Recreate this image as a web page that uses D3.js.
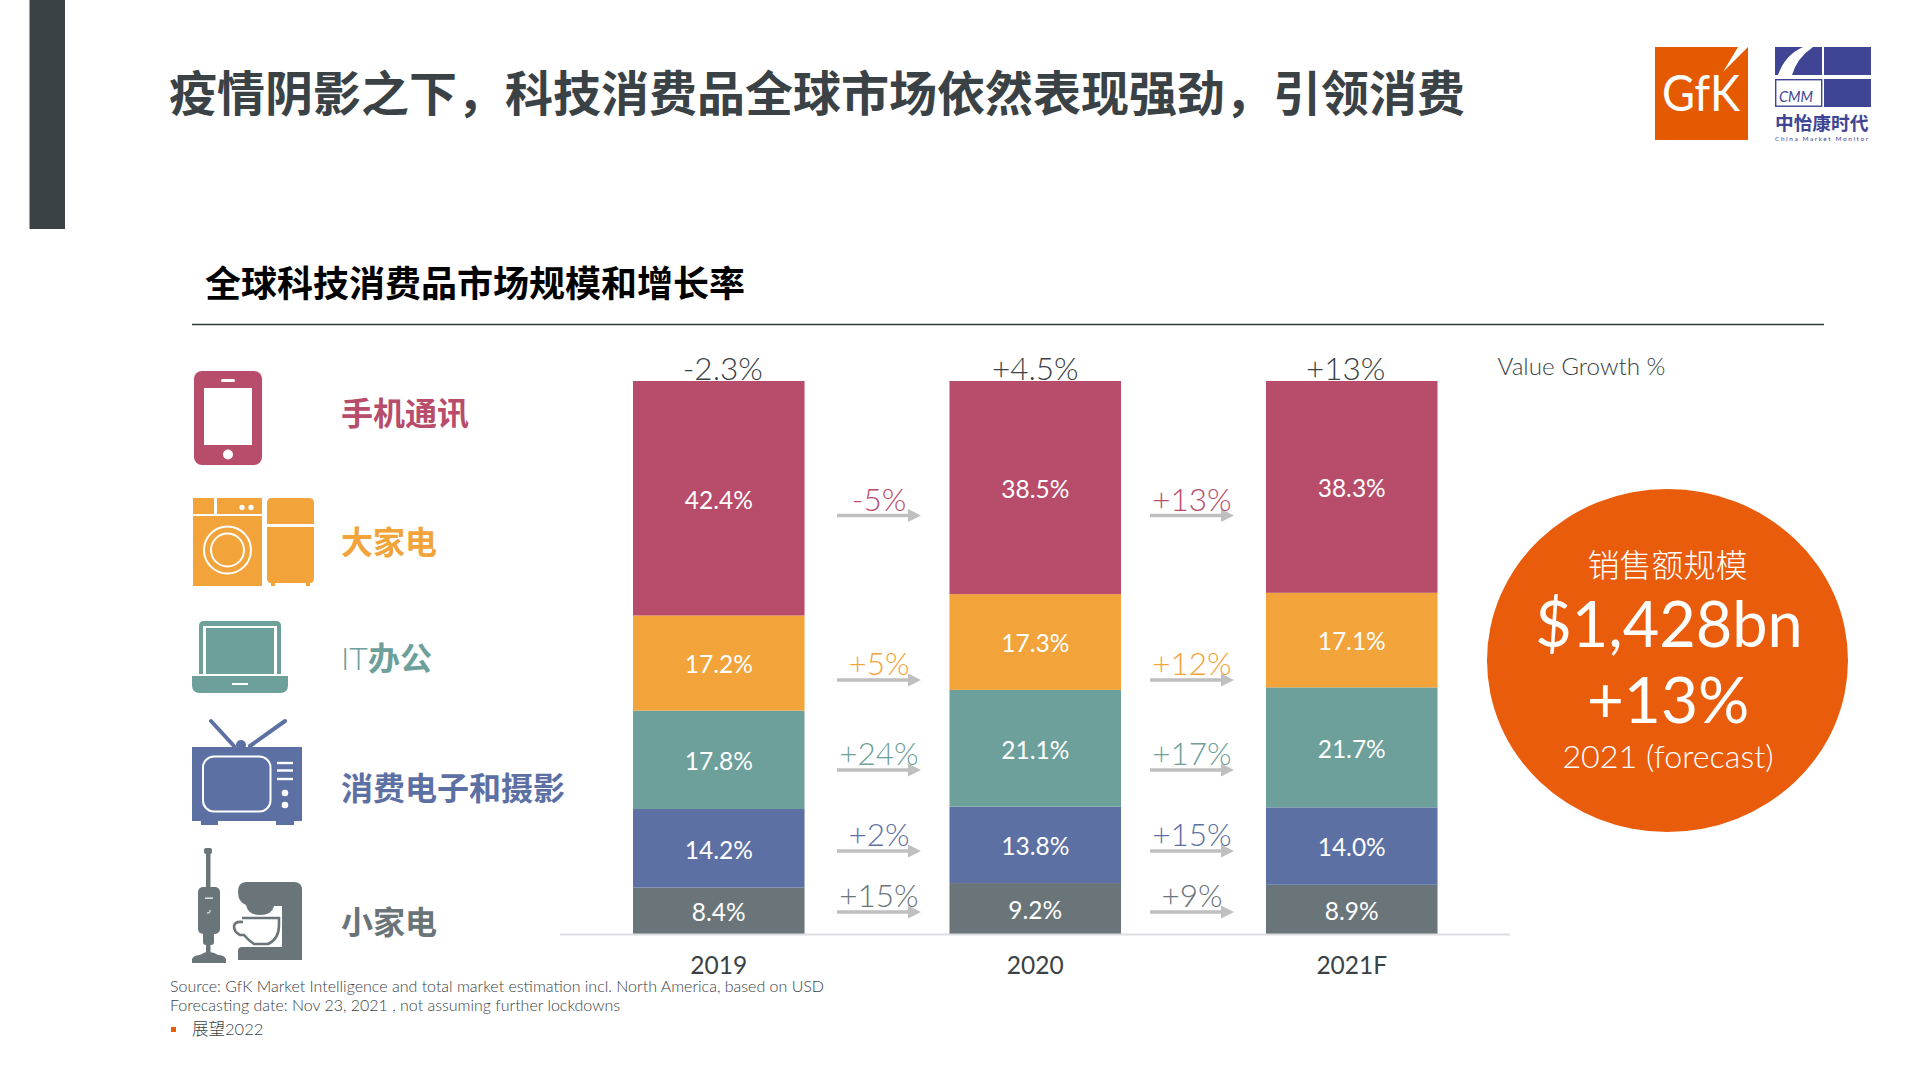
<!DOCTYPE html>
<html lang="zh-CN">
<head>
<meta charset="utf-8">
<title>全球科技消费品市场规模和增长率</title>
<script src="https://cdn.jsdelivr.net/npm/d3@7"></script>
<style>
  html, body { margin: 0; padding: 0; background: #fff; }
  svg { display: block; }
  text { font-family: Lato, "Noto Sans CJK SC", sans-serif; }
  .cjk { font-family: "Noto Sans CJK SC", sans-serif; }
</style>
</head>
<body>
<svg id="chart" width="1920" height="1080"></svg>
<script>
// chart values
const years = ['2019', '2020', '2021F'];
const categories = ['手机通讯', '大家电', 'IT办公', '消费电子和摄影', '小家电'];
const phone = [42.4, 38.5, 38.3];
const bigAppliance = [17.2, 17.3, 17.1];
const itOffice = [17.8, 21.1, 21.7];
const consumerElec = [14.2, 13.8, 14.0];
const smallAppliance = [8.4, 9.2, 8.9];
const totalGrowth = ['-2.3%', '+4.5%', '+13%'];
const growth2020 = ['-5%', '+5%', '+24%', '+2%', '+15%'];
const growth2021 = ['+13%', '+12%', '+17%', '+15%', '+9%'];

const dark = '#3a4245';
const colors = ['#b84c6b', '#f2a33a', '#6da09a', '#5d70a3', '#6a757a'];
const orange = '#e95c0c';
const cmmBlue = '#3f4594';

const svg = d3.select('#chart');

// header
svg.append('rect').attr('x', 29.5).attr('y', 0).attr('width', 35.5).attr('height', 229).attr('fill', dark);

svg.append('text').attr('class', 'cjk')
  .attr('x', 169).attr('y', 111)
  .attr('font-size', 48).attr('font-weight', 700).attr('fill', dark)
  .text('疫情阴影之下，科技消费品全球市场依然表现强劲，引领消费');

svg.append('text').attr('class', 'cjk')
  .attr('x', 205).attr('y', 297)
  .attr('font-size', 36).attr('font-weight', 700).attr('fill', '#000')
  .text('全球科技消费品市场规模和增长率');

svg.append('line')
  .attr('x1', 192).attr('x2', 1824).attr('y1', 324.5).attr('y2', 324.5)
  .attr('stroke', '#2f3638').attr('stroke-width', 1.5);

// stacked bars
const rows = years.map((y, i) => ({
  year: y,
  phone: phone[i],
  bigAppliance: bigAppliance[i],
  itOffice: itOffice[i],
  consumerElec: consumerElec[i],
  smallAppliance: smallAppliance[i]
}));

// stack from the bottom up, the bars all read as 100%
const keys = ['smallAppliance', 'consumerElec', 'itOffice', 'bigAppliance', 'phone'];
const barColor = d3.scaleOrdinal().domain(keys).range(colors.slice().reverse());
const stacked = d3.stack().keys(keys).offset(d3.stackOffsetExpand)(rows);

const xScale = d3.scaleBand().domain(years).range([633, 1437.5]).paddingInner(0.458).paddingOuter(0);
const yScale = d3.scaleLinear().domain([0, 1]).range([934, 381]);

const layers = svg.selectAll('g.layer')
  .data(stacked)
  .enter()
  .append('g')
  .attr('class', 'layer')
  .attr('fill', d => barColor(d.key));

layers.selectAll('rect')
  .data(d => d)
  .enter()
  .append('rect')
  .attr('x', d => xScale(d.data.year))
  .attr('y', d => yScale(d[1]))
  .attr('width', xScale.bandwidth())
  .attr('height', d => yScale(d[0]) - yScale(d[1]));

layers.selectAll('text')
  .data(d => d.map(p => ({ p: p, key: d.key })))
  .enter()
  .append('text')
  .attr('x', d => xScale(d.p.data.year) + xScale.bandwidth() / 2)
  .attr('y', d => (yScale(d.p[0]) + yScale(d.p[1])) / 2)
  .attr('dy', '0.42em')
  .attr('text-anchor', 'middle')
  .attr('font-size', 24.5)
  .attr('fill', '#fff')
  .text(d => d.p.data[d.key].toFixed(1) + '%');

// baseline and year labels
svg.append('line')
  .attr('x1', 560).attr('x2', 1510).attr('y1', 934.5).attr('y2', 934.5)
  .attr('stroke', '#dddee1').attr('stroke-width', 2);

const xAxis = d3.axisBottom(xScale).tickSize(0).tickPadding(23);
const xAxisG = svg.append('g').attr('transform', 'translate(0,934)').call(xAxis);
xAxisG.select('.domain').remove();
xAxisG.selectAll('text')
  .attr('font-size', 24.5)
  .attr('fill', dark)
  .style('font-family', 'Lato');

// total growth above each bar
const totalShift = [4, 0, -6];
svg.selectAll('text.total')
  .data(totalGrowth)
  .enter()
  .append('text')
  .attr('class', 'total')
  .attr('x', (d, i) => xScale(years[i]) + xScale.bandwidth() / 2 + totalShift[i])
  .attr('y', 380)
  .attr('text-anchor', 'middle')
  .attr('font-size', 31.5)
  .attr('font-weight', 300)
  .attr('fill', dark)
  .text(d => d);

svg.append('text')
  .attr('x', 1497.5).attr('y', 375)
  .attr('font-size', 24.2).attr('font-weight', 300).attr('fill', dark)
  .text('Value Growth %');

// growth arrows between the bars
const arrowRowY = [515.5, 680, 770, 851, 912];
const arrowColumns = [
  { x: 837, labels: growth2020 },
  { x: 1150, labels: growth2021 }
];
const arrowLen = 84;

arrowColumns.forEach(col => {
  const g = svg.append('g').attr('transform', `translate(${col.x},0)`);
  const item = g.selectAll('g')
    .data(col.labels)
    .enter()
    .append('g')
    .attr('transform', (d, i) => `translate(0,${arrowRowY[i]})`);

  item.append('path')
    .attr('d', `M0,-1.7H${arrowLen - 13}V-6.5L${arrowLen},0L${arrowLen - 13},6.5V1.7H0Z`)
    .attr('fill', '#bfbfbf');

  item.append('text')
    .attr('x', arrowLen / 2)
    .attr('y', -5)
    .attr('text-anchor', 'middle')
    .attr('font-size', 31.5)
    .attr('font-weight', 300)
    .attr('fill', (d, i) => colors[i])
    .text(d => d);
});

// legend text
const legendY = [425, 554, 670, 800, 934];
const legend = svg.selectAll('text.legend')
  .data(categories)
  .enter()
  .append('text')
  .attr('class', 'legend')
  .attr('x', 341)
  .attr('y', (d, i) => legendY[i])
  .attr('font-size', 32)
  .attr('font-weight', 700)
  .attr('fill', (d, i) => colors[i]);

legend.each(function (d) {
  const t = d3.select(this);
  if (d.startsWith('IT')) {
    t.append('tspan').attr('font-weight', 300).text('IT');
    t.append('tspan').text(d.slice(2));
  } else {
    t.text(d);
  }
});

// legend icons
const phoneIcon = svg.append('g');
phoneIcon.append('rect').attr('x', 194).attr('y', 371).attr('width', 68).attr('height', 94).attr('rx', 8).attr('fill', colors[0]);
phoneIcon.append('rect').attr('x', 204).attr('y', 388).attr('width', 48).attr('height', 57).attr('fill', '#fff');
phoneIcon.append('rect').attr('x', 221).attr('y', 379).attr('width', 14).attr('height', 3).attr('rx', 1.5).attr('fill', '#fff');
phoneIcon.append('circle').attr('cx', 228).attr('cy', 454.5).attr('r', 5).attr('fill', '#fff');

const washer = svg.append('g');
washer.append('rect').attr('x', 193).attr('y', 498).attr('width', 21).attr('height', 16).attr('fill', colors[1]);
washer.append('rect').attr('x', 217).attr('y', 498).attr('width', 45).attr('height', 16).attr('fill', colors[1]);
washer.append('rect').attr('x', 193).attr('y', 516).attr('width', 69).attr('height', 70).attr('fill', colors[1]);
washer.append('circle').attr('cx', 242).attr('cy', 507.5).attr('r', 2.7).attr('fill', '#fff');
washer.append('circle').attr('cx', 251).attr('cy', 507.5).attr('r', 2.7).attr('fill', '#fff');
[23.5, 16.5].forEach(r => {
  washer.append('circle').attr('cx', 227.5).attr('cy', 550).attr('r', r)
    .attr('fill', 'none').attr('stroke', '#fff').attr('stroke-width', 2);
});
washer.append('path')
  .attr('d', 'M267,524V503Q267,498 272,498H309Q314,498 314,503V524Z')
  .attr('fill', colors[1]);
washer.append('path')
  .attr('d', 'M267,527H314V578Q314,583 310,583V586H306V583H275V586H271V583Q267,583 267,578Z')
  .attr('fill', colors[1]);

const laptop = svg.append('g');
laptop.append('path').attr('d', 'M199,674V626Q199,621 204,621H276Q281,621 281,626V674H277V626H203V674Z').attr('fill', colors[2]);
laptop.append('rect').attr('x', 206).attr('y', 628).attr('width', 68).attr('height', 46).attr('fill', colors[2]);
laptop.append('path').attr('d', 'M192,676H288V685Q288,693 280,693H200Q192,693 192,685Z').attr('fill', colors[2]);
laptop.append('rect').attr('x', 232).attr('y', 683).attr('width', 16).attr('height', 2).attr('fill', '#fff');

const tv = svg.append('g');
tv.append('path').attr('d', 'M211,721L234,746M285,721L250,746').attr('stroke', colors[3]).attr('stroke-width', 4).attr('stroke-linecap', 'round');
tv.append('circle').attr('cx', 241).attr('cy', 745).attr('r', 5).attr('fill', colors[3]);
tv.append('rect').attr('x', 192).attr('y', 747).attr('width', 110).attr('height', 74).attr('fill', colors[3]);
tv.append('rect').attr('x', 201).attr('y', 820).attr('width', 17).attr('height', 5).attr('fill', colors[3]);
tv.append('rect').attr('x', 276).attr('y', 820).attr('width', 18).attr('height', 5).attr('fill', colors[3]);
tv.append('rect').attr('x', 203).attr('y', 756.5).attr('width', 67.5).attr('height', 55).attr('rx', 11)
  .attr('fill', 'none').attr('stroke', '#fff').attr('stroke-width', 2);
[763, 770.5, 779].forEach(y => {
  tv.append('rect').attr('x', 277).attr('y', y - 1.2).attr('width', 16).attr('height', 2.4).attr('fill', '#fff');
});
[793, 805].forEach(y => {
  tv.append('circle').attr('cx', 285).attr('cy', y).attr('r', 3.3).attr('fill', '#fff');
});

const vacuum = svg.append('g').attr('fill', colors[4]);
vacuum.append('rect').attr('x', 204).attr('y', 848).attr('width', 8).attr('height', 6).attr('rx', 2);
vacuum.append('rect').attr('x', 206).attr('y', 852).attr('width', 4.5).attr('height', 36);
vacuum.append('rect').attr('x', 198).attr('y', 887).attr('width', 22).attr('height', 47).attr('rx', 5);
vacuum.append('rect').attr('x', 203).attr('y', 932).attr('width', 11).attr('height', 13).attr('rx', 3);
vacuum.append('rect').attr('x', 206).attr('y', 944).attr('width', 4.5).attr('height', 12);
vacuum.append('path').attr('d', 'M192,963V959Q194,955 200,955Q204,952 208,952Q214,952 218,955Q224,955 226,959V963Z');
vacuum.append('rect').attr('x', 205).attr('y', 897.5).attr('width', 8).attr('height', 1.2).attr('fill', '#fff');
vacuum.append('path').attr('d', 'M210,910V912Q210,913 207,913').attr('fill', 'none').attr('stroke', '#fff').attr('stroke-width', 1);

const coffee = svg.append('g');
coffee.append('path')
  .attr('d', 'M246,882H294Q302,882 302,890V960H238V951Q238,947 242,947H282V906H274Q272,915 260,915Q248,915 246,905Q238,902 238,892Q238,882 246,882Z')
  .attr('fill', colors[4]);
coffee.append('path')
  .attr('d', 'M242,918H279V925Q279,939 268,944H254Q249,941 244,935H240Q234,932 234,926Q235,921 243,922')
  .attr('fill', '#fff').attr('stroke', colors[4]).attr('stroke-width', 2.6);

// big orange callout, slightly squashed in the reference
const bubble = svg.append('g').attr('text-anchor', 'middle').attr('fill', '#fff');
bubble.append('ellipse').attr('cx', 1667.5).attr('cy', 660.5).attr('rx', 180.5).attr('ry', 171.5).attr('fill', orange);
bubble.append('text').attr('class', 'cjk').attr('x', 1667.5).attr('y', 577)
  .attr('font-size', 32).attr('font-weight', 300).text('销售额规模');
bubble.append('text').attr('x', 1669).attr('y', 647)
  .attr('font-size', 63).text('$1,428bn');
bubble.append('text').attr('x', 1668).attr('y', 723)
  .attr('font-size', 64).text('+13%');
bubble.append('text').attr('x', 1668).attr('y', 768)
  .attr('font-size', 32.3).attr('font-weight', 300).text('2021 (forecast)');

// GfK logo
const gfk = svg.append('g');
gfk.append('rect').attr('x', 1655).attr('y', 47).attr('width', 93).attr('height', 93).attr('fill', '#e55a00');
gfk.append('path').attr('d', 'M1723,72L1738,47H1748Z').attr('fill', '#fff');
gfk.append('text').attr('x', 1662).attr('y', 111)
  .attr('font-size', 50).attr('font-weight', 400).attr('fill', '#fff')
  .attr('textLength', 78).attr('lengthAdjust', 'spacingAndGlyphs')
  .text('GfK');

// CMM logo
const cmm = svg.append('g').attr('fill', cmmBlue);
cmm.append('rect').attr('x', 1775).attr('y', 47).attr('width', 47).attr('height', 28);
cmm.append('path').attr('d', 'M1778,75Q1785,55 1803,47H1813Q1797,58 1792,75Z').attr('fill', '#fff');
cmm.append('rect').attr('x', 1824).attr('y', 47).attr('width', 47).attr('height', 28);
cmm.append('rect').attr('x', 1824).attr('y', 79).attr('width', 47).attr('height', 28);
cmm.append('rect').attr('x', 1775.7).attr('y', 79.7).attr('width', 46).attr('height', 26.5)
  .attr('fill', 'none').attr('stroke', cmmBlue).attr('stroke-width', 1.4);
cmm.append('text').attr('x', 1779).attr('y', 102)
  .attr('font-size', 16).attr('font-style', 'italic')
  .attr('textLength', 34).attr('lengthAdjust', 'spacingAndGlyphs')
  .text('CMM');
cmm.append('text').attr('class', 'cjk').attr('x', 1775).attr('y', 130)
  .attr('font-size', 18.7).attr('font-weight', 700).text('中怡康时代');
cmm.append('text').attr('x', 1775).attr('y', 141)
  .attr('font-size', 6.5).attr('textLength', 94).attr('letter-spacing', 1)
  .text('China Market Monitor');

// source notes
svg.append('text').attr('x', 170).attr('y', 992)
  .attr('font-size', 16).attr('font-weight', 300).attr('fill', dark)
  .attr('textLength', 654).attr('lengthAdjust', 'spacing')
  .text('Source: GfK Market Intelligence and total market estimation incl. North America, based on USD');
svg.append('text').attr('x', 170).attr('y', 1011)
  .attr('font-size', 16).attr('font-weight', 300).attr('fill', dark)
  .attr('textLength', 450).attr('lengthAdjust', 'spacing')
  .text('Forecasting date: Nov 23, 2021 , not assuming further lockdowns');
svg.append('rect').attr('x', 171).attr('y', 1027).attr('width', 5).attr('height', 5).attr('fill', orange);
svg.append('text').attr('x', 192).attr('y', 1035)
  .attr('font-size', 16.5).attr('font-weight', 300).attr('fill', dark)
  .text('展望2022');
</script>
</body>
</html>
